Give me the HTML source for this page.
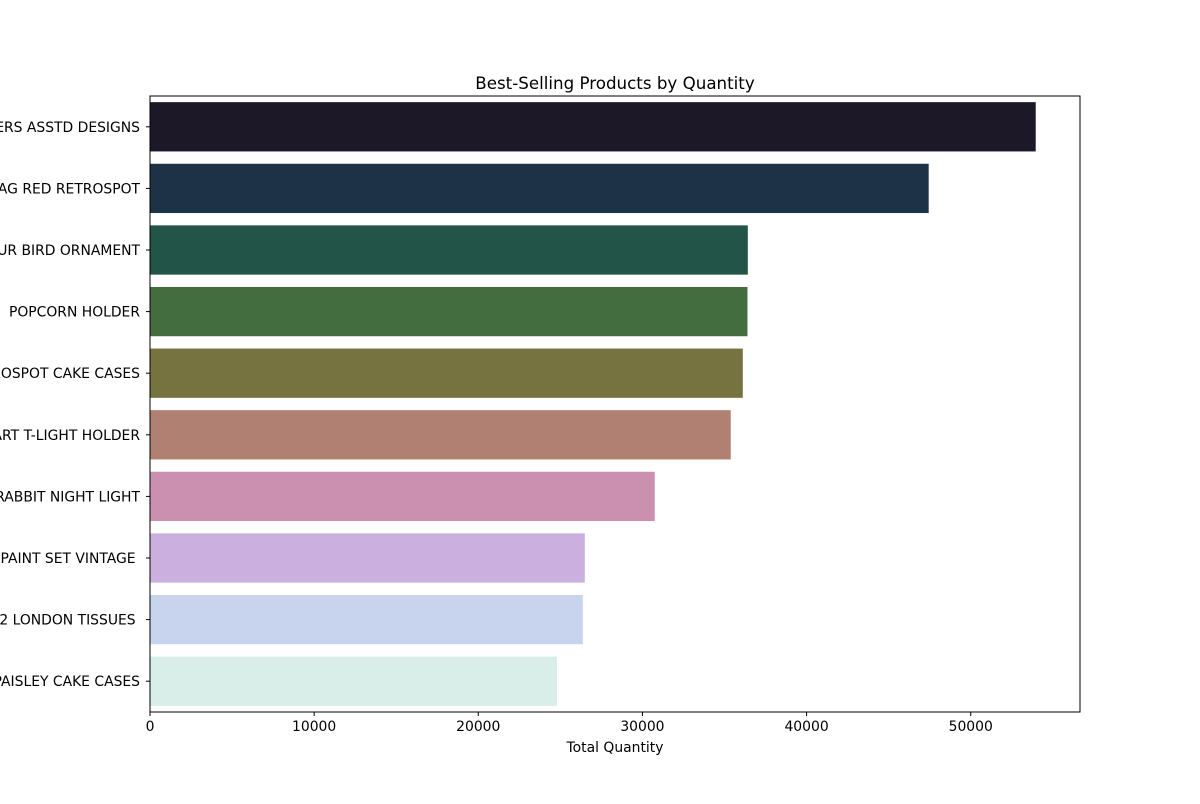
<!DOCTYPE html>
<html><head><meta charset="utf-8"><style>
body{margin:0;background:#fff;width:1200px;height:800px;overflow:hidden;font-family:"DejaVu Sans","Liberation Sans",sans-serif}
</style></head><body>
<svg id="chart" width="1200" height="800" font-family="DejaVu Sans, Liberation Sans, sans-serif"></svg>
<script>
const categories=["WORLD WAR 2 GLIDERS ASSTD DESIGNS","JUMBO BAG RED RETROSPOT","ASSORTED COLOUR BIRD ORNAMENT","POPCORN HOLDER","PACK OF 72 RETROSPOT CAKE CASES","WHITE HANGING HEART T-LIGHT HOLDER","RABBIT NIGHT LIGHT","MINI PAINT SET VINTAGE\u00a0","PACK OF 12 LONDON TISSUES\u00a0","PACK OF 60 PINK PAISLEY CAKE CASES"];
const quantities=[53960,47440,36420,36400,36115,35380,30750,26490,26370,24790];
const colors=["#1c1827","#1e3247","#225448","#436d3e","#777341","#b08172","#cb8fb0","#cbb0df","#c8d3ee","#d9ede9"];
const xTicks=[0,10000,20000,30000,40000,50000];
const L=150,R=1080,T=96,B=712;
const xMax=Math.max(...quantities)*1.05;
const xs=v=>L+v/xMax*(R-L);
const band=(B-T)/categories.length;
const svg=document.getElementById('chart');
const NS="http://www.w3.org/2000/svg";
function mk(tag,attrs,text){const e=document.createElementNS(NS,tag);for(const k in attrs)e.setAttribute(k,attrs[k]);if(text!==undefined)e.textContent=text;svg.appendChild(e);return e;}
categories.forEach((c,i)=>{
  const y=T+band*i+band*0.1;
  const r=mk('rect',{x:L,y:y,width:xs(quantities[i])-L,height:band*0.8,fill:colors[i]});
  
  
  const t=mk('text',{x:140,y:T+band*(i+0.5)+5,'text-anchor':'end','font-size':'13.9'},c);
  
  
  mk('line',{x1:146,x2:L,y1:T+band*(i+0.5),y2:T+band*(i+0.5),stroke:'#000','stroke-width':1});
});
const frame=mk('rect',{x:L,y:T,width:R-L,height:B-T,fill:'none',stroke:'#000','stroke-width':1});


xTicks.forEach(v=>{
  mk('line',{x1:xs(v),x2:xs(v),y1:B,y2:B+4,stroke:'#000','stroke-width':1});
  const t=mk('text',{x:xs(v),y:B+19,'text-anchor':'middle','font-size':'13.9'},String(v));
  
  
});
const xt=mk('text',{x:(L+R)/2,y:752,'text-anchor':'middle','font-size':'13.9'},'Total Quantity');


const title=mk('text',{x:(L+R)/2,y:89,'text-anchor':'middle','font-size':'16.7'},'Best-Selling Products by Quantity');


</script>
</body></html>
